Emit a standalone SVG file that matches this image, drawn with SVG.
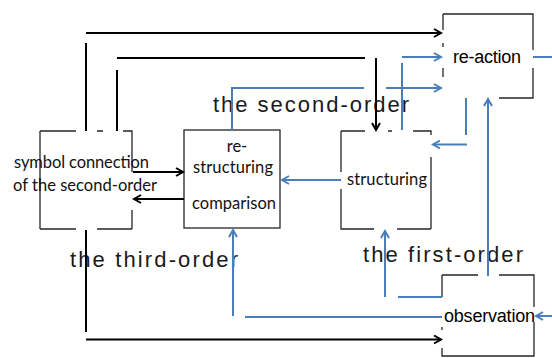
<svg xmlns="http://www.w3.org/2000/svg" width="552" height="358" viewBox="0 0 552 358">
  <style>
    .box { fill: none; stroke: #262626; stroke-width: 1.3; }
    .k { fill: none; stroke: #000; stroke-width: 2; }
    .b { fill: none; stroke: #4a7ebb; stroke-width: 2; }
    .cal { font-family: Lato, "Liberation Sans", sans-serif; font-size: 16.5px; fill: #111; }
    .hel { font-family: "Liberation Sans", Arial, sans-serif; font-size: 18px; fill: #000; }
    .ord { font-family: "Liberation Sans", Arial, sans-serif; font-size: 22px; fill: #1a1a1a; }
  </style>
  <defs>
    <marker id="ak" markerUnits="userSpaceOnUse" markerWidth="12" markerHeight="12" refX="9" refY="5" orient="auto">
      <path d="M2,1 L9,5 L2,9" fill="none" stroke="#000" stroke-width="2"/>
    </marker>
    <marker id="ab" markerUnits="userSpaceOnUse" markerWidth="12" markerHeight="12" refX="9" refY="5" orient="auto">
      <path d="M2,1 L9,5 L2,9" fill="none" stroke="#4a7ebb" stroke-width="2"/>
    </marker>
  </defs>

  <rect width="552" height="358" fill="#fff"/>

  <!-- box outlines (interrupted where connectors pass) -->
  <g id="symbol-connection">
    <path class="box" d="M40,131 V229 M40,131 H76 M97,131 H103 M123,131 H132 V172 M132,210 V229 M40,229 H76 M97,229 H132"/>
    <text class="cal" x="14" y="168" textLength="135">symbol connection</text>
    <text class="cal" x="13" y="191" textLength="144">of the second-order</text>
  </g>

  <g id="restructuring">
    <rect class="box" x="184" y="130" width="96" height="98"/>
    <text class="cal" x="237" y="152" text-anchor="middle">re-</text>
    <text class="cal" x="193" y="173" textLength="80">structuring</text>
    <text class="cal" x="192" y="209" textLength="84">comparison</text>
  </g>

  <g id="structuring">
    <path class="box" d="M341,131 H365 M388,131 H392 M413,131 H431 V135 M431,157 V229 M341,131 V172 M341,189 V229 H374 M397,229 H431"/>
    <text class="cal" x="347" y="185" textLength="80">structuring</text>
  </g>

  <g id="re-action">
    <path class="box" d="M443,14 H533 V50 M533,68 V98 H499 M443,14 V30 M443,43 V47 M443,68 V77"/>
    <text class="hel" x="453" y="63" textLength="68">re-action</text>
  </g>

  <g id="observation">
    <path class="box" d="M442,275 H478 M499,275 H534 V307 M534,322 V356 H442 V348 M442,275 V297 M442,327 V330"/>
    <text class="hel" x="444" y="322" textLength="91">observation</text>
  </g>

  <!-- level labels -->
  <g id="labels">
    <text class="ord" x="213" y="112" textLength="196">the second-order</text>
    <text class="ord" x="70" y="267" textLength="168">the third-order</text>
    <text class="ord" x="363" y="262" textLength="160">the first-order</text>
  </g>

  <g id="connectors">
    <!-- black: third-order loops -->
    <path class="k" d="M86,131 V43"/>
    <path class="k" d="M86,33 H441" marker-end="url(#ak)"/>
    <path class="k" d="M117,131 V70"/>
    <path class="k" d="M117,58 H365"/>
    <path class="k" d="M376,58 V130" marker-end="url(#ak)"/>
    <path class="k" d="M133,172 H183" marker-end="url(#ak)"/>
    <path class="k" d="M184,199 H134" marker-end="url(#ak)"/>
    <path class="k" d="M86,230 V332"/>
    <path class="k" d="M86,339.5 H441" marker-end="url(#ak)"/>

    <!-- blue: second- and first-order loops -->
    <path class="b" d="M232,130 V88 H364"/>
    <path class="b" d="M386,88 H441" marker-end="url(#ab)"/>
    <path class="b" d="M402,130 V63"/>
    <path class="b" d="M402,57 H441" marker-end="url(#ab)"/>
    <path class="b" d="M533,57 H552"/>
    <path class="b" d="M466,98 V135"/>
    <path class="b" d="M467,144.5 H433" marker-end="url(#ab)"/>
    <path class="b" d="M341,180 H282" marker-end="url(#ab)"/>
    <path class="b" d="M488,276 V99" marker-end="url(#ab)"/>
    <path class="b" d="M442,297 H398"/>
    <path class="b" d="M385,297 V231" marker-end="url(#ab)"/>
    <path class="b" d="M442,317 H245"/>
    <path class="b" d="M233,316 V230" marker-end="url(#ab)"/>
    <path class="b" d="M552,316 H536" marker-end="url(#ab)"/>
  </g>
</svg>
